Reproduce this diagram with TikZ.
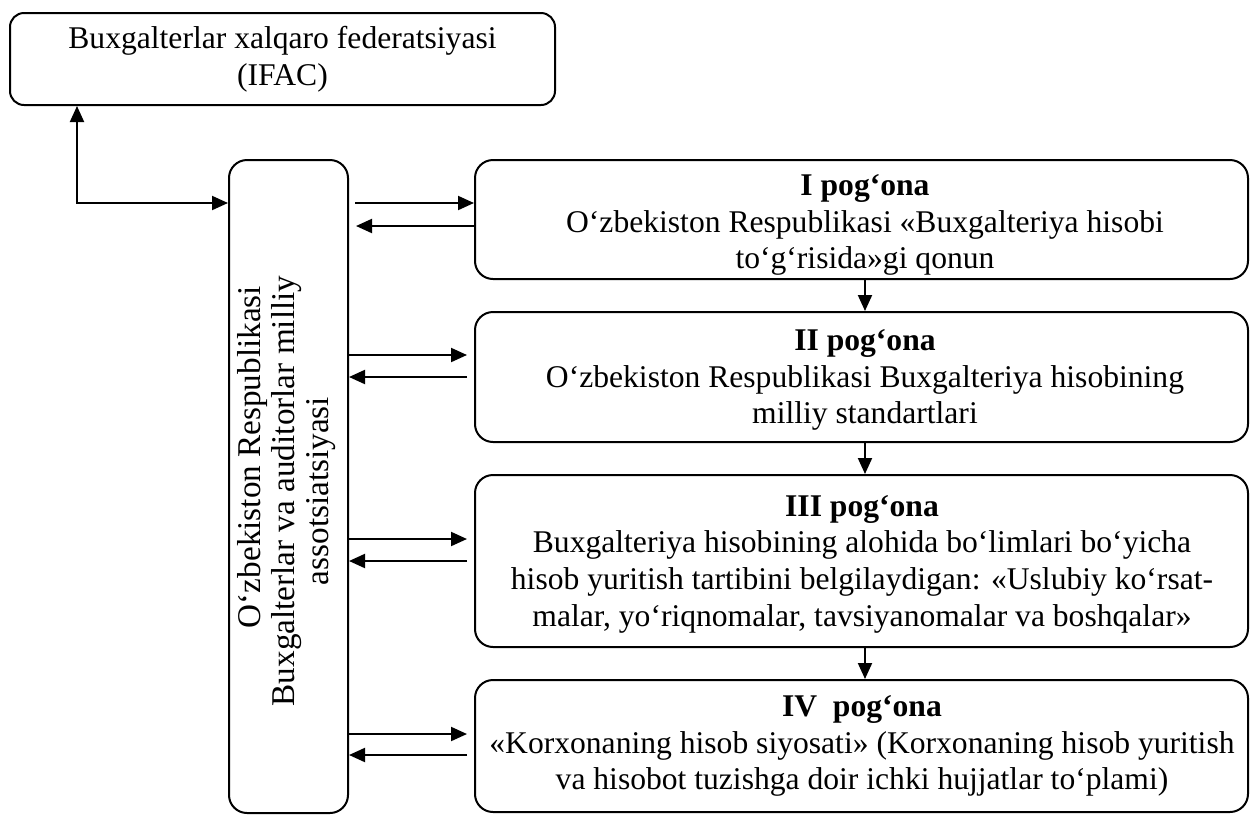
\documentclass[tikz,border=0pt]{standalone}
\usepackage{fontspec}
\setmainfont{Liberation Serif}
\usetikzlibrary{arrows.meta}
\begin{document}
\begin{tikzpicture}[x=0.5pt,y=-0.5pt,
  box/.style={draw,line width=1pt,rounded corners=9pt,inner sep=0pt,align=center,
    font=\fontsize{15.8}{18.3}\selectfont},
  arr/.style={line width=1pt,-{Triangle[length=8pt,width=7pt]}},
  arrb/.style={line width=1pt,{Triangle[length=8pt,width=7pt]}-{Triangle[length=8pt,width=7pt]}}]
\useasboundingbox (0,0) rectangle (1250,816);
% boxes
\node[box,rounded corners=7pt,minimum width=272.5pt,minimum height=46pt] (top) at (282.5,59)
  {Buxgalterlar xalqaro federatsiyasi\\(IFAC)};
\node[box,minimum width=59.5pt,minimum height=326.5pt] (vb) at (288.5,486.5) {};
\node[rotate=90,align=center,inner sep=0pt,font=\fontsize{16.6}{17}\selectfont] (vtext) at (287,491)
  {\hspace*{34pt}O‘zbekiston Respublikasi\\Buxgalterlar va auditorlar milliy\\assotsiatsiyasi};
\node[box,minimum width=386.5pt,minimum height=59.5pt] (b1) at (861.5,219.5) {};
\node[align=center,inner sep=0pt,font=\fontsize{15.8}{18.3}\selectfont] (t1) at (865,225)
  {\textbf{I pog‘ona}\\O‘zbekiston Respublikasi «Buxgalteriya hisobi\\to‘g‘risida»gi qonun};
\node[box,minimum width=386.5pt,minimum height=65pt] (b2) at (861.5,377) {};
\node[align=center,inner sep=0pt,font=\fontsize{15.8}{18.3}\selectfont] (t2) at (865,380)
  {\textbf{II pog‘ona}\\O‘zbekiston Respublikasi Buxgalteriya hisobining\\milliy standartlari};
\node[box,minimum width=386.5pt,minimum height=86pt] (b3) at (861.5,561) {};
\node[align=center,inner sep=0pt,font=\fontsize{15.8}{18.3}\selectfont] (t3) at (862,564)
  {\textbf{III pog‘ona}\\Buxgalteriya hisobining alohida bo‘limlari bo‘yicha\\hisob yuritish tartibini belgilaydigan: «Uslubiy ko‘rsat-\\malar, yo‘riqnomalar, tavsiyanomalar va boshqalar»};
\node[box,minimum width=386.5pt,minimum height=66pt] (b4) at (861.5,746) {};
\node[align=center,inner sep=0pt,font=\fontsize{15.8}{18.3}\selectfont] (t4) at (862,746)
  {\textbf{IV\ \ pog‘ona}\\«Korxonaning hisob siyosati» (Korxonaning hisob yuritish\\va hisobot tuzishga doir ichki hujjatlar to‘plami)};
% top connector
\coordinate (j) at (77,203);
\draw[arrb] (j |- top.south) -- (j) -- (j -| vb.west);
% box I arrows
\coordinate (r1) at (355,203);
\coordinate (l1) at (356,226);
\draw[arr] (r1) -- (r1 -| b1.west);
\draw[arr] (l1 -| b1.west) -- (l1);
% other arrows
\coordinate (r2) at (467,355);
\coordinate (l2) at (467,377);
\coordinate (r3) at (467,539);
\coordinate (l3) at (467,561);
\coordinate (r4) at (467,734);
\coordinate (l4) at (467,755);
\draw[arr] (r2 -| vb.east) -- (r2);
\draw[arr] (l2) -- (l2 -| vb.east);
\draw[arr] (r3 -| vb.east) -- (r3);
\draw[arr] (l3) -- (l3 -| vb.east);
\draw[arr] (r4 -| vb.east) -- (r4);
\draw[arr] (l4) -- (l4 -| vb.east);
% down arrows
\coordinate (dx) at (865,0);
\draw[arr] (dx |- b1.south) -- (dx |- b2.north);
\draw[arr] (dx |- b2.south) -- (dx |- b3.north);
\draw[arr] (dx |- b3.south) -- (dx |- b4.north);
\end{tikzpicture}
\end{document}
